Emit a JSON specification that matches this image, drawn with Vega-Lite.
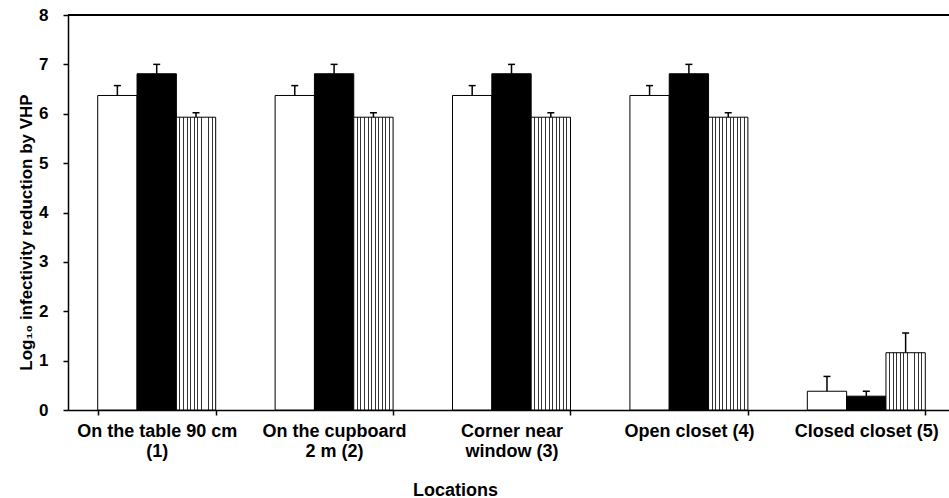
{
  "$schema": "https://vega.github.io/schema/vega-lite/v6.json",
  "width": 881,
  "height": 395,
  "autosize": {"type": "none"},
  "padding": {"left": 68, "top": 15, "right": 0, "bottom": 88},
  "view": {"stroke": null},
  "config": {"font": "Liberation Sans"},
  "data": {
    "values": [
      {"loc": "On the table 90 cm|(1)", "s": "Series 1", "v": 6.37, "hi": 6.57},
      {"loc": "On the table 90 cm|(1)", "s": "Series 2", "v": 6.81, "hi": 7.0},
      {"loc": "On the table 90 cm|(1)", "s": "Series 3", "v": 5.93, "hi": 6.02},
      {"loc": "On the cupboard|2 m (2)", "s": "Series 1", "v": 6.37, "hi": 6.57},
      {"loc": "On the cupboard|2 m (2)", "s": "Series 2", "v": 6.81, "hi": 7.0},
      {"loc": "On the cupboard|2 m (2)", "s": "Series 3", "v": 5.93, "hi": 6.02},
      {"loc": "Corner near|window (3)", "s": "Series 1", "v": 6.37, "hi": 6.57},
      {"loc": "Corner near|window (3)", "s": "Series 2", "v": 6.81, "hi": 7.0},
      {"loc": "Corner near|window (3)", "s": "Series 3", "v": 5.93, "hi": 6.02},
      {"loc": "Open closet (4)", "s": "Series 1", "v": 6.37, "hi": 6.57},
      {"loc": "Open closet (4)", "s": "Series 2", "v": 6.81, "hi": 7.0},
      {"loc": "Open closet (4)", "s": "Series 3", "v": 5.93, "hi": 6.02},
      {"loc": "Closed closet (5)", "s": "Series 1", "v": 0.38, "hi": 0.68},
      {"loc": "Closed closet (5)", "s": "Series 2", "v": 0.28, "hi": 0.38},
      {"loc": "Closed closet (5)", "s": "Series 3", "v": 1.16, "hi": 1.56}
    ]
  },
  "encoding": {
    "x": {
      "field": "loc",
      "type": "nominal",
      "sort": null,
      "scale": {"range": [0, 887], "paddingInner": 0.335, "paddingOuter": 0.1675},
      "axis": {
        "labelExpr": "split(datum.label, '|')",
        "labelAngle": 0,
        "labelFontSize": 18,
        "labelFontWeight": "bold",
        "labelColor": "black",
        "labelLineHeight": 20,
        "labelPadding": 7,
        "labelBaseline": "top",
        "tickBand": "extent",
        "tickSize": 5,
        "tickColor": "black",
        "tickWidth": 1.5,
        "domainColor": "black",
        "domainWidth": 1.5,
        "title": "Locations",
        "titleFontSize": 18,
        "titleFontWeight": "bold",
        "titleColor": "black",
        "titleX": 387,
        "titleY": 85,
        "titleBaseline": "alphabetic",
        "titleAlign": "center"
      }
    },
    "xOffset": {
      "field": "s",
      "type": "nominal",
      "scale": {"paddingInner": 0, "paddingOuter": 0}
    }
  },
  "layer": [
    {
      "mark": {"type": "bar", "stroke": "black", "strokeWidth": 1},
      "encoding": {
        "y": {
          "field": "v",
          "type": "quantitative",
          "scale": {"domain": [0, 8]},
          "axis": {
            "values": [0, 1, 2, 3, 4, 5, 6, 7, 8],
            "grid": false,
            "tickSize": 5,
            "tickColor": "black",
            "tickWidth": 1.5,
            "domainColor": "black",
            "domainWidth": 1.5,
            "labelPadding": 15,
            "labelFontSize": 17,
            "labelFontWeight": "bold",
            "labelColor": "black",
            "title": "Log₁₀ infectivity reduction by VHP",
            "titleFontSize": 17,
            "titleFontWeight": "bold",
            "titleColor": "black",
            "titleAngle": -90,
            "titleX": -37,
            "titleY": 217,
            "titleBaseline": "alphabetic",
            "titleAlign": "center"
          }
        },
        "fill": {
          "condition": [
            {"test": "datum.s === 'Series 1'", "value": "#ffffff"},
            {"test": "datum.s === 'Series 2'", "value": "#000000"}
          ],
          "value": {
            "gradient": "linear",
            "x1": 0, "x2": 1, "y1": 0, "y2": 0,
            "stops": [
              {"offset": 0, "color": "#ffffff"},
              {"offset": 0.079, "color": "#ffffff"}, {"offset": 0.079, "color": "#333333"}, {"offset": 0.103, "color": "#333333"}, {"offset": 0.103, "color": "#ffffff"},
              {"offset": 0.170, "color": "#ffffff"}, {"offset": 0.170, "color": "#333333"}, {"offset": 0.194, "color": "#333333"}, {"offset": 0.194, "color": "#ffffff"},
              {"offset": 0.261, "color": "#ffffff"}, {"offset": 0.261, "color": "#333333"}, {"offset": 0.285, "color": "#333333"}, {"offset": 0.285, "color": "#ffffff"},
              {"offset": 0.352, "color": "#ffffff"}, {"offset": 0.352, "color": "#333333"}, {"offset": 0.376, "color": "#333333"}, {"offset": 0.376, "color": "#ffffff"},
              {"offset": 0.443, "color": "#ffffff"}, {"offset": 0.443, "color": "#333333"}, {"offset": 0.467, "color": "#333333"}, {"offset": 0.467, "color": "#ffffff"},
              {"offset": 0.534, "color": "#ffffff"}, {"offset": 0.534, "color": "#333333"}, {"offset": 0.558, "color": "#333333"}, {"offset": 0.558, "color": "#ffffff"},
              {"offset": 0.625, "color": "#ffffff"}, {"offset": 0.625, "color": "#333333"}, {"offset": 0.649, "color": "#333333"}, {"offset": 0.649, "color": "#ffffff"},
              {"offset": 0.716, "color": "#ffffff"}, {"offset": 0.716, "color": "#333333"}, {"offset": 0.740, "color": "#333333"}, {"offset": 0.740, "color": "#ffffff"},
              {"offset": 0.807, "color": "#ffffff"}, {"offset": 0.807, "color": "#333333"}, {"offset": 0.831, "color": "#333333"}, {"offset": 0.831, "color": "#ffffff"},
              {"offset": 0.898, "color": "#ffffff"}, {"offset": 0.898, "color": "#333333"}, {"offset": 0.922, "color": "#333333"}, {"offset": 0.922, "color": "#ffffff"},
              {"offset": 1, "color": "#ffffff"}
            ]
          }
        }
      }
    },
    {
      "mark": {"type": "rule", "stroke": "black", "strokeWidth": 1.5},
      "encoding": {
        "y": {"field": "v", "type": "quantitative"},
        "y2": {"field": "hi"}
      }
    },
    {
      "mark": {"type": "tick", "orient": "horizontal", "size": 7, "thickness": 1.5, "color": "black", "opacity": 1},
      "encoding": {
        "y": {"field": "hi", "type": "quantitative"}
      }
    },
    {
      "mark": {"type": "rule", "stroke": "black", "strokeWidth": 1.5},
      "encoding": {
        "x": {"value": 0},
        "x2": {"value": 881},
        "y": {"datum": 8, "type": "quantitative"},
        "xOffset": null
      }
    }
  ]
}
